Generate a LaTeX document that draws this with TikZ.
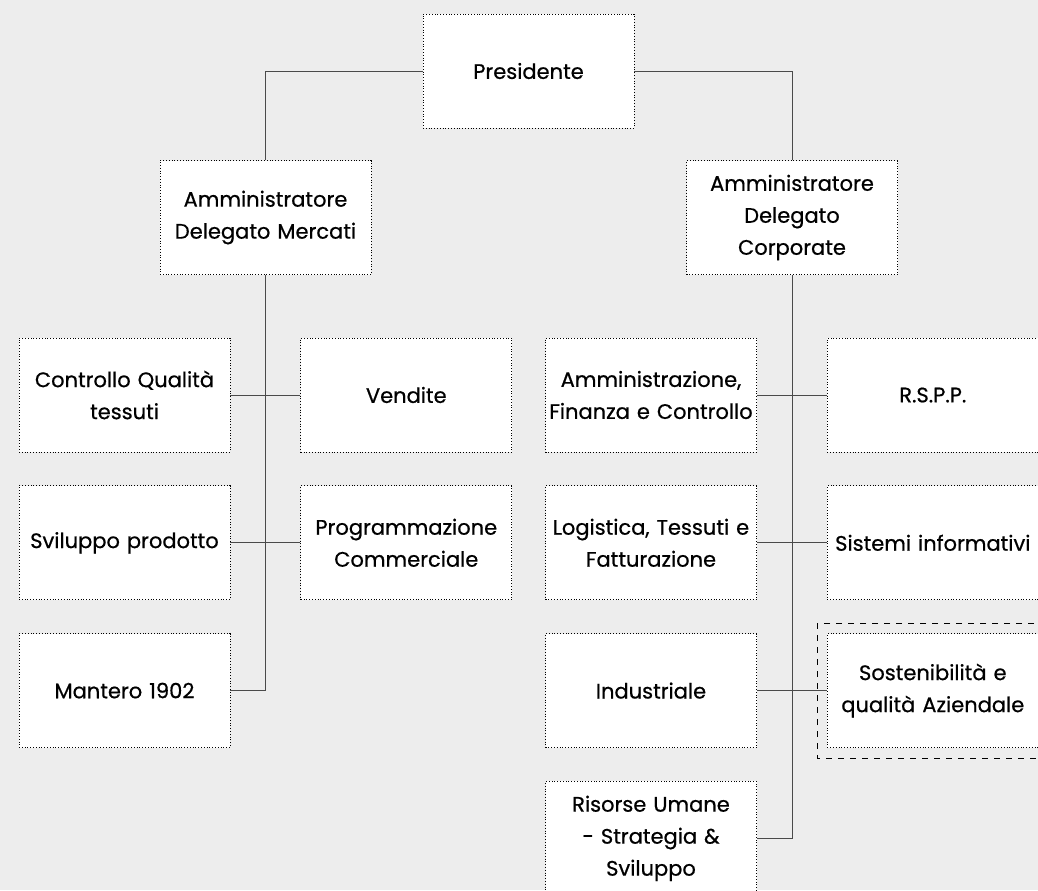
\documentclass[tikz,border=0pt]{standalone}
\usepackage{fontspec}
\setmainfont{Poppins}[FakeBold=0.6]
\usepackage{tikz}
\usetikzlibrary{positioning}
\definecolor{sfondo}{HTML}{EDEDED}
\definecolor{linea}{HTML}{4A4A4A}
\tikzset{
    auto,node distance =16.5pt and 35pt,% vertical and horizontal gaps between the boxes
}

\begin{document}
\begin{tikzpicture}[x=0.5pt, y=-0.5pt
        ,every node/.style ={rectangle, draw, densely dotted, fill=white, align=center, inner sep=0pt,
            text width=104pt, minimum width=105.5pt, minimum height=57pt, font=\fontsize{10.5}{16}\selectfont},
        link/.style ={draw=linea, line width=0.5pt, solid}]
            \fill[sfondo] (0,0) rectangle (1038,890);
            \useasboundingbox (0,0) rectangle (1038,890);
            \node (pres) at (528.5,71) {Presidente};
            \node (merc) at (265.5,217.5) {Amministratore\\Delegato Mercati};
            \node (corp) at (792,217.5) {Amministratore\\Delegato\\Corporate};
            % ramo mercati
            \node (cqt) at (124.5,395) {Controllo Qualità\\tessuti};
            \node (vend) [right =of cqt] {Vendite};
            \node (svil) [below =of cqt] {Sviluppo prodotto};
            \node (prog) [below =of vend] {Programmazione\\Commerciale};
            \node (mant) [below =of svil] {Mantero 1902};
            % ramo corporate
            \node (afc) at (651,395) {Amministrazione,\\Finanza e Controllo};
            \node (rspp) [right =of afc] {R.S.P.P.};
            \node (ltf) [below =of afc] {Logistica, Tessuti e\\Fatturazione};
            \node (sinf) [below =of rspp] {Sistemi informativi};
            \node (ind) [below =of ltf] {Industriale};
            \node (sost) [below =of sinf] {Sostenibilità e\\qualità Aziendale};
            \node (ris) [below =of ind] {Risorse Umane\\- Strategia \&\\Sviluppo};
            \draw[dashed] ([shift={(-5pt,5pt)}]sost.north west) rectangle ([shift={(5pt,-5pt)}]sost.south east);
            % collegamenti
            \path[link] (pres.west) -| (merc.north);
            \path[link] (pres.east) -| (corp.north);
            \path[link] (merc.south) |- (mant.east);
            \path[link] (cqt.east) -- (vend.west);
            \path[link] (svil.east) -- (prog.west);
            \path[link] (corp.south) |- (ris.east);
            \path[link] (afc.east) -- (rspp.west);
            \path[link] (ltf.east) -- (sinf.west);
            \path[link] (ind.east) -- (sost.west);
        \end{tikzpicture}
\end{document}
